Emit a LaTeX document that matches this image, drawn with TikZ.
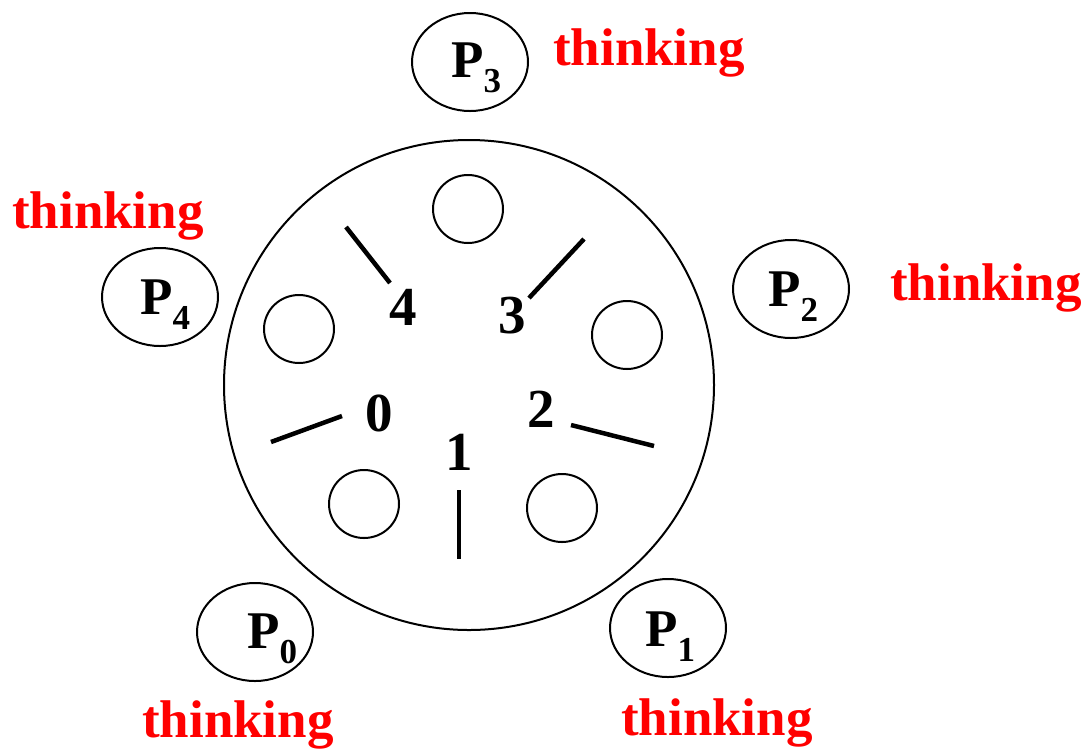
\documentclass[tikz,border=0pt]{standalone}
\usepackage{fontspec}
\setmainfont{Liberation Serif}
\usetikzlibrary{shapes.geometric}
\tikzset{
  phil/.style={draw, ellipse, line width=2pt, minimum width=116pt, minimum height=98pt, inner sep=0pt},
  plate/.style={draw, ellipse, line width=2pt, minimum width=70pt, minimum height=68pt, inner sep=0pt},
  table/.style={draw, circle, line width=2pt, minimum size=490pt, inner sep=0pt},
  plabel/.style={anchor=base west, inner sep=0pt, font=\fontsize{53}{60}\selectfont\bfseries},
  think/.style={anchor=base west, inner sep=0pt, text=red, font=\fontsize{53}{60}\selectfont\bfseries},
  num/.style={anchor=center, inner sep=0pt, font=\fontsize{55}{60}\selectfont\bfseries},
  chop/.style={line width=4.5pt}
}
\newcommand{\plab}[1]{P\raisebox{-15pt}{\fontsize{35}{38}\selectfont\bfseries #1}}
\begin{document}
\begin{tikzpicture}[x=1pt,y=-1pt]
\useasboundingbox (0,0) rectangle (1084,748);
\fill[white] (0,0) rectangle (1084,748);
% table
\node[table] (tbl) at (469,385) {};
% plates
\node[plate] (pl3) at (468,209) {};
\node[plate] (pl4) at (299,329) {};
\node[plate] (pl2) at (627,335) {};
\node[plate] (pl0) at (364,504) {};
\node[plate] (pl1) at (562,508) {};
% chopsticks
\coordinate (c4a) at (346,227); \coordinate (c4b) at (390,283);
\coordinate (c3a) at (584,239); \coordinate (c3b) at (529,298);
\coordinate (c0a) at (271,442); \coordinate (c0b) at (342,416);
\coordinate (c2a) at (571,425); \coordinate (c2b) at (654,446);
\coordinate (c1a) at (459,490); \coordinate (c1b) at (459,559);
\draw[chop] (c4a) -- (c4b);
\draw[chop] (c3a) -- (c3b);
\draw[chop] (c0a) -- (c0b);
\draw[chop] (c2a) -- (c2b);
\draw[chop] (c1a) -- (c1b);
% chopstick numbers
\node[num] (n4) at (403,307) {4};
\node[num] (n3) at (512,316) {3};
\node[num] (n0) at (379,413) {0};
\node[num] (n2) at (541,409) {2};
\node[num] (n1) at (459,452) {1};
% philosophers
\node[phil] (p3) at (470,62) {};
\node[phil] (p4) at (160,297) {};
\node[phil] (p2) at (791,289) {};
\node[phil] (p0) at (255,632) {};
\node[phil] (p1) at (668,628) {};
\node[plabel] (l3) at (451,77) {\plab{3}};
\node[plabel] (l4) at (140,314) {\plab{4}};
\node[plabel] (l2) at (768,306) {\plab{2}};
\node[plabel] (l0) at (247,648) {\plab{0}};
\node[plabel] (l1) at (645,646) {\plab{1}};
% states
\node[think] (t3) at (553,65) {thinking};
\node[think] (t4) at (12,228) {thinking};
\node[think] (t2) at (890,300) {thinking};
\node[think] (t0) at (142,737) {thinking};
\node[think] (t1) at (621,735) {thinking};
\end{tikzpicture}
\end{document}
